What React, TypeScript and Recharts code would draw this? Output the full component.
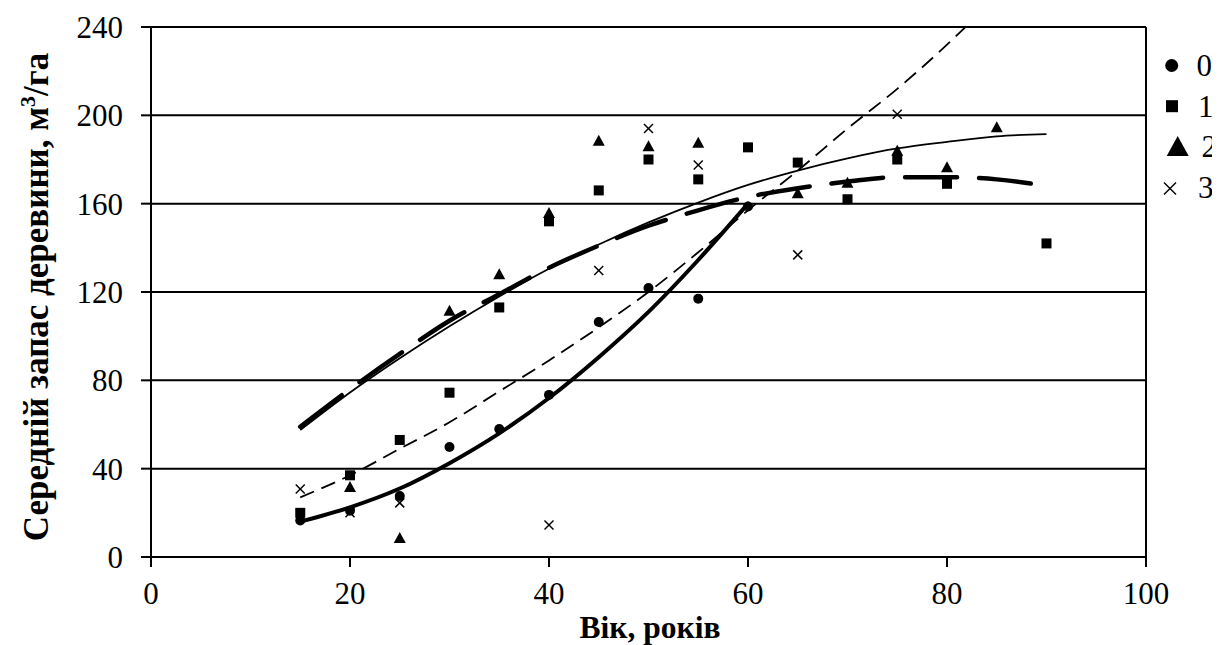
import React from 'react';
import {
  ComposedChart,
  Scatter,
  Line,
  XAxis,
  YAxis,
  CartesianGrid,
  ReferenceLine,
  Legend
} from 'recharts';

const FONT = '"Liberation Serif", "Times New Roman", serif';

// observed points, by group
const ages0 = [15, 20, 25, 30, 35, 40, 45, 50, 55, 60];
const stock0 = [16.5, 21, 27.6, 49.8, 58, 73.4, 106.4, 121.8, 117, 158.7];

const ages1 = [15, 20, 25, 30, 35, 40, 45, 50, 55, 60, 65, 70, 75, 80, 90];
const stock1 = [20, 37, 53, 74.4, 113, 152, 166, 180, 171, 185.5, 178.6, 162, 180, 169, 142];

const ages2 = [20, 25, 30, 35, 40, 45, 50, 55, 65, 70, 75, 80, 85];
const stock2 = [31.7, 8.6, 111.5, 128, 155.8, 188.5, 186, 187.6, 164.7, 169.5, 184, 176.5, 194.6];

const ages3 = [15, 20, 25, 40, 45, 50, 55, 65, 75];
const stock3 = [30.8, 20, 24.5, 14.5, 129.7, 194, 177.5, 136.8, 200.5];

// trend curves
const trendAgesShort = [15, 20, 25, 30, 35, 40, 45, 50, 55, 60];
const trendThickSolid = [16, 22.5, 31, 42.5, 56, 72, 90.5, 111, 134.5, 160];

const trendAgesDash = [15, 20, 25, 30, 35, 40, 45, 50, 55, 60, 65, 70, 75, 80, 83];
const trendThinDash = [27, 37, 49, 61, 75, 89, 104, 120, 138, 157, 175, 194, 212, 232, 245];

const trendAgesLong = [15, 20, 25, 30, 35, 40, 45, 50, 55, 60, 65, 70, 75, 80, 85, 90];
const trendThickDash = [59, 76, 92, 107, 119, 131, 141, 150, 157, 163, 167, 170, 172, 172, 171, 168];
const trendThinSolid = [57.5, 74.5, 90, 104.5, 118, 130.5, 141.5, 151.5, 160.5, 168.5, 175, 180.5, 185, 188, 190.5, 191.5];

const xTicks = [0, 20, 40, 60, 80, 100];
const yTicks = [0, 40, 80, 120, 160, 200, 240];
const groupNames = ['0', '1', '2', '3'];

const toPoints = (xs: number[], ys: number[]) => xs.map((x, i) => ({ x, y: ys[i] }));

const CircleMark = (p: any) => <circle cx={p.cx} cy={p.cy} r={5} fill="#000" />;
const SquareMark = (p: any) => (
  <rect x={p.cx - 5} y={p.cy - 5} width={10} height={10} fill="#000" />
);
const TriangleMark = (p: any) => (
  <polygon
    points={`${p.cx},${p.cy - 6} ${p.cx + 6},${p.cy + 5} ${p.cx - 6},${p.cy + 5}`}
    fill="#000"
  />
);
const XMark = (p: any) => (
  <g stroke="#000" strokeWidth={1.5}>
    <line x1={p.cx - 4.5} y1={p.cy - 4.5} x2={p.cx + 4.5} y2={p.cy + 4.5} />
    <line x1={p.cx - 4.5} y1={p.cy + 4.5} x2={p.cx + 4.5} y2={p.cy - 4.5} />
  </g>
);

const renderLegend = () => {
  const rowY = (i: number) => 17.5 + i * 40.7;
  return (
    <svg width={62} height={170} style={{ overflow: 'visible' }}>
      <circle cx={13.7} cy={rowY(0)} r={6.5} fill="#000" />
      <rect x={8} y={rowY(1) - 6} width={12} height={12} fill="#000" />
      <polygon
        points={`19.7,${rowY(2) - 11} 30.7,${rowY(2) + 9} 8.7,${rowY(2) + 9}`}
        fill="#000"
      />
      <g stroke="#000" strokeWidth={1.4}>
        <line x1={6} y1={rowY(3) - 5} x2={18} y2={rowY(3) + 7} />
        <line x1={6} y1={rowY(3) + 7} x2={18} y2={rowY(3) - 5} />
      </g>
      {groupNames.map((n, i) => (
        <text
          key={n}
          x={[38.5, 40, 43.5, 40][i]}
          y={rowY(i)}
          dy="0.34em"
          fontFamily={FONT}
          fontSize={31}
          fill="#000"
        >
          {n}
        </text>
      ))}
    </svg>
  );
};

const renderYTitle = () => (
  <text
    x={40}
    y={289}
    transform="rotate(-90, 40, 289)"
    textAnchor="middle"
    fontFamily={FONT}
    fontWeight="bold"
    fontSize={35}
    fill="#000"
  >
    Середній запас деревини, м<tspan dy={-13} fontSize={22}>3</tspan>
    <tspan dy={13}>/га</tspan>
  </text>
);

const renderXTitle = () => (
  <text
    x={642}
    y={630}
    textAnchor="middle"
    fontFamily={FONT}
    fontWeight="bold"
    fontSize={31.5}
    fill="#000"
  >
    Вік, років
  </text>
);

const tickStyle = { fill: '#000', fontSize: 31, fontFamily: FONT };

export default function App() {
  return (
    <div style={{ fontFamily: FONT }}>
      <style>{'html { overflow: hidden; } body { overflow: visible; }'}</style>
      <ComposedChart
        width={1212}
        height={637}
        margin={{ top: 19, right: 74, left: 0, bottom: 0 }}
      >
        <CartesianGrid vertical={false} stroke="#000" strokeWidth={2} />
        <XAxis
          type="number"
          dataKey="x"
          domain={[0, 100]}
          ticks={xTicks}
          height={88}
          tickSize={10}
          tickMargin={15}
          tick={tickStyle}
          axisLine={{ stroke: '#000', strokeWidth: 2 }}
          tickLine={{ stroke: '#000', strokeWidth: 2 }}
          label={renderXTitle}
        />
        <YAxis
          type="number"
          dataKey="y"
          domain={[0, 240]}
          ticks={yTicks}
          allowDataOverflow
          width={143}
          tickSize={10}
          tickMargin={18}
          tick={tickStyle}
          axisLine={{ stroke: '#000', strokeWidth: 2 }}
          tickLine={{ stroke: '#000', strokeWidth: 2 }}
          label={renderYTitle}
        />
        <ReferenceLine x={100} stroke="#000" strokeWidth={2} />
        <Legend
          layout="horizontal"
          align="center"
          verticalAlign="middle"
          content={renderLegend}
          wrapperStyle={{ left: 1150, top: 40, width: 62, height: 170 }}
        />

        <Scatter name="0" data={toPoints(ages0, stock0)} dataKey="y" shape={CircleMark} isAnimationActive={false} />
        <Scatter name="1" data={toPoints(ages1, stock1)} dataKey="y" shape={SquareMark} isAnimationActive={false} />
        <Scatter name="2" data={toPoints(ages2, stock2)} dataKey="y" shape={TriangleMark} isAnimationActive={false} />
        <Scatter name="3" data={toPoints(ages3, stock3)} dataKey="y" shape={XMark} isAnimationActive={false} />

        <Line
          data={toPoints(trendAgesLong, trendThinSolid)}
          dataKey="y"
          type="monotone"
          stroke="#000"
          strokeWidth={1.8}
          dot={false}
          legendType="none"
          isAnimationActive={false}
        />
        <Line
          data={toPoints(trendAgesLong, trendThickDash)}
          dataKey="y"
          type="monotone"
          stroke="#000"
          strokeWidth={4.5}
          strokeDasharray="52 22"
          strokeLinecap="round"
          dot={false}
          legendType="none"
          isAnimationActive={false}
        />
        <Line
          data={toPoints(trendAgesDash, trendThinDash)}
          dataKey="y"
          type="monotone"
          stroke="#000"
          strokeWidth={1.8}
          strokeDasharray="15 8"
          dot={false}
          legendType="none"
          isAnimationActive={false}
        />
        <Line
          data={toPoints(trendAgesShort, trendThickSolid)}
          dataKey="y"
          type="monotone"
          stroke="#000"
          strokeWidth={4}
          strokeLinecap="round"
          dot={false}
          legendType="none"
          isAnimationActive={false}
        />
      </ComposedChart>
    </div>
  );
}
